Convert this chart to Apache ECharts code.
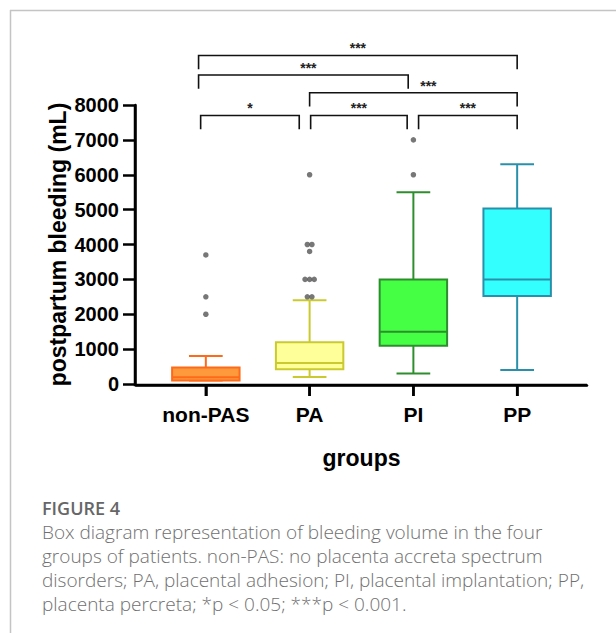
<!DOCTYPE html>
<html>
<head>
<meta charset="utf-8">
<script src="https://cdn.jsdelivr.net/npm/echarts@6/dist/echarts.min.js"></script>
<style>html,body{margin:0;padding:0;background:#fff}#chart{width:616px;height:633px}</style>
</head>
<body>
<div id="chart"></div>
<script>
// ---- data ----
const categories = ['non-PAS', 'PA', 'PI', 'PP'];
const categoryIndex = [0, 1, 2, 3];
const whiskerLow  = [100, 200, 300, 400];
const q1          = [100, 420, 1100, 2520];
const median      = [190, 600, 1500, 3000];
const q3          = [470, 1200, 3000, 5030];
const whiskerHigh = [800, 2400, 5500, 6300];
const outliers = [
  [3700, 2500, 2000],
  [6000, 4000, 4000, 3800, 3000, 3000, 3000, 2500, 2500],
  [7000, 6000],
  []
];
const yTicks = [0, 1000, 2000, 3000, 4000, 5000, 6000, 7000, 8000];
// significance comparisons: from group, to group, bracket level (mL scale), label
const compFrom  = [0, 1, 2, 1, 0, 0];
const compTo    = [1, 2, 3, 3, 2, 3];
const compLevel = [7700, 7700, 7700, 8350, 8860, 9420];
const compLabel = ['*', '***', '***', '***', '***', '***'];
const captionTitle = 'FIGURE 4';
const captionLines = [
  'Box diagram representation of bleeding volume in the four',
  'groups of patients. non-PAS: no placenta accreta spectrum',
  'disorders; PA, placental adhesion; PI, placental implantation; PP,',
  'placenta percreta; *p < 0.05; ***p < 0.001.'
];

// ---- styles ----
const fills   = ['#FF9A3C', '#FFFF99', '#44FF44', '#33FFFF'];
const borders = ['#FF6A1A', '#CACA30', '#2E8E2E', '#2A8FAA'];
const bracketInset = [[-0.05, -0.1], [0.01, -0.06], [0.05, 0], [0, 0], [-0.07, -0.05], [-0.07, 0]];
const bracketLabelDx = [0, 0, 0, 15, 5, 0];
const FONT = 'Liberation Sans, Arial, sans-serif';
const AXIS_W = 2.5;
const X_MIN = -0.673, X_MAX = 3.673, Y_MIN = 0, Y_MAX = 8000;

const boxData = categories.map((c, i) => [categoryIndex[i], whiskerLow[i], q1[i], median[i], q3[i], whiskerHigh[i]]);
const outlierData = [];
outliers.forEach((arr, i) => {
  const counts = {};
  arr.forEach(v => counts[v] = (counts[v] || 0) + 1);
  const seen = {};
  arr.forEach(v => {
    const n = counts[v];
    const k = seen[v] = (seen[v] || 0);
    seen[v]++;
    outlierData.push({ value: [categoryIndex[i], v], symbolOffset: [(k - (n - 1) / 2) * 4.6, 0] });
  });
});
const compData = compFrom.map((f, i) => [f, compTo[i], compLevel[i]]);

const chart = echarts.init(document.getElementById('chart'), null, { renderer: 'svg' });

const captionGraphics = [
  { type: 'line', shape: { x1: 10, y1: 10.5, x2: 616, y2: 10.5 }, style: { stroke: '#c4c4c4', lineWidth: 1.5 }, silent: true },
  { type: 'line', shape: { x1: 10.5, y1: 10, x2: 10.5, y2: 633 }, style: { stroke: '#c4c4c4', lineWidth: 1.5 }, silent: true },
  { type: 'text', left: 42, top: 499, style: { text: captionTitle, font: '600 18px "Open Sans", sans-serif', fill: '#666' } }
];
captionLines.forEach((t, i) => {
  captionGraphics.push({ type: 'text', left: 42, top: 522 + i * 24,
    style: { text: t, font: '300 19px "Open Sans", sans-serif', fill: '#707070' } });
});

chart.setOption({
  animation: false,
  grid: { left: 136, right: 29, top: 105, bottom: 249 },
  xAxis: {
    type: 'value', min: X_MIN, max: X_MAX, offset: 1,
    axisLine: { show: true, onZero: false, lineStyle: { color: '#000', width: AXIS_W } },
    axisTick: { show: true, length: 11, customValues: categoryIndex, lineStyle: { color: '#000', width: AXIS_W } },
    splitLine: { show: false },
    axisLabel: { margin: 19, color: '#000', fontWeight: 'bold', fontSize: 21, fontFamily: FONT,
      customValues: categoryIndex, formatter: v => categories[Math.round(v)] },
    name: 'groups', nameLocation: 'middle', nameGap: 61, nameMoveOverlap: false,
    nameTextStyle: { color: '#000', fontWeight: 'bold', fontSize: 23, fontFamily: FONT }
  },
  yAxis: {
    type: 'value', min: Y_MIN, max: Y_MAX, interval: 1000, offset: 1,
    axisLine: { show: true, onZero: false, lineStyle: { color: '#000', width: AXIS_W } },
    axisTick: { show: true, length: 12, lineStyle: { color: '#000', width: AXIS_W } },
    splitLine: { show: false },
    axisLabel: { margin: 16, color: '#000', fontWeight: 'bold', fontSize: 20, fontFamily: FONT,
      customValues: yTicks, formatter: v => String(v) },
    name: 'postpartum bleeding (mL)', nameLocation: 'middle', nameGap: 66, nameMoveOverlap: false,
    nameTextStyle: { color: '#000', fontWeight: 'bold', fontSize: 23, fontFamily: FONT }
  },
  graphic: captionGraphics,
  series: [
    {
      type: 'custom', name: 'box',
      data: boxData, encode: { x: 0, y: [1, 2, 3, 4, 5] }, z: 2,
      renderItem: function (params, api) {
        const i = api.value(0);
        const bw = api.size([1, 0])[0];
        const half = bw * 0.65 / 2;
        const capHalf = half / 2;
        const pMin = api.coord([i, api.value(1)]);
        const pQ1 = api.coord([i, api.value(2)]);
        const pMed = api.coord([i, api.value(3)]);
        const pQ3 = api.coord([i, api.value(4)]);
        const pMax = api.coord([i, api.value(5)]);
        const cx = pMed[0];
        const stroke = borders[i];
        const ls = () => ({ stroke: stroke, lineWidth: 2 });
        return {
          type: 'group',
          children: [
            { type: 'line', shape: { x1: cx, y1: pQ3[1], x2: cx, y2: pMax[1] }, style: ls() },
            { type: 'line', shape: { x1: cx, y1: pQ1[1], x2: cx, y2: pMin[1] }, style: ls() },
            { type: 'line', shape: { x1: cx - capHalf, y1: pMax[1], x2: cx + capHalf, y2: pMax[1] }, style: ls() },
            { type: 'line', shape: { x1: cx - capHalf, y1: pMin[1], x2: cx + capHalf, y2: pMin[1] }, style: ls() },
            { type: 'rect', shape: { x: cx - half, y: pQ3[1], width: half * 2, height: pQ1[1] - pQ3[1] },
              style: { fill: fills[i], stroke: stroke, lineWidth: 2 } },
            { type: 'line', shape: { x1: cx - half, y1: pMed[1], x2: cx + half, y2: pMed[1] }, style: ls() }
          ]
        };
      }
    },
    {
      type: 'scatter', name: 'outliers',
      data: outlierData, symbol: 'circle', symbolSize: 5.5,
      itemStyle: { color: '#555' }, z: 3
    },
    {
      type: 'custom', name: 'significance', clip: false,
      data: compData, encode: { x: [0, 1], y: 2 }, z: 4,
      renderItem: function (params, api) {
        const k = params.dataIndex;
        const f = api.value(0), t = api.value(1), lvl = api.value(2);
        const bw = api.size([1, 0])[0];
        const a = api.coord([f, lvl]);
        const b = api.coord([t, lvl]);
        const x1 = a[0] + bracketInset[k][0] * bw;
        const x2 = b[0] + bracketInset[k][1] * bw;
        const y = a[1];
        const drop = 13.7;
        return {
          type: 'group',
          children: [
            { type: 'polyline', shape: { points: [[x1, y + drop], [x1, y], [x2, y], [x2, y + drop]] },
              style: { fill: null, stroke: '#111', lineWidth: 1.6 } },
            { type: 'text', style: { text: compLabel[k], x: (x1 + x2) / 2 + bracketLabelDx[k], y: y - 7,
                align: 'center', verticalAlign: 'middle', font: 'bold 14px ' + FONT, fill: '#222' } }
          ]
        };
      }
    }
  ]
});

// axis lines and x ticks, positioned through the grid's own scales (drawn on top)
try {
  const toPx = (x, y) => chart.convertToPixel({ gridIndex: 0 }, [x, y]);
  const pOrigin = toPx(X_MIN, Y_MIN);
  const pTop = toPx(X_MIN, Y_MAX);
  const pRight = toPx(X_MAX, Y_MIN);
  if (pOrigin && pTop && pRight) {
    const axisY = pOrigin[1] + 1;
    const axisX = pOrigin[0] - 1;
    const axisStyle = () => ({ stroke: '#000', lineWidth: AXIS_W });
    const axisGraphics = [
      { type: 'line', z: 100, silent: true, shape: { x1: axisX - AXIS_W / 2, y1: axisY, x2: pRight[0], y2: axisY }, style: axisStyle() },
      { type: 'line', z: 100, silent: true, shape: { x1: axisX, y1: pTop[1], x2: axisX, y2: axisY }, style: axisStyle() }
    ];
    categoryIndex.forEach(i => {
      const p = toPx(i, Y_MIN);
      axisGraphics.push({ type: 'line', z: 100, silent: true,
        shape: { x1: p[0], y1: axisY, x2: p[0], y2: axisY + 11 }, style: axisStyle() });
    });
    chart.setOption({ graphic: captionGraphics.concat(axisGraphics) });
  }
} catch (e) { /* axis overlay is optional */ }
</script>
</body>
</html>
